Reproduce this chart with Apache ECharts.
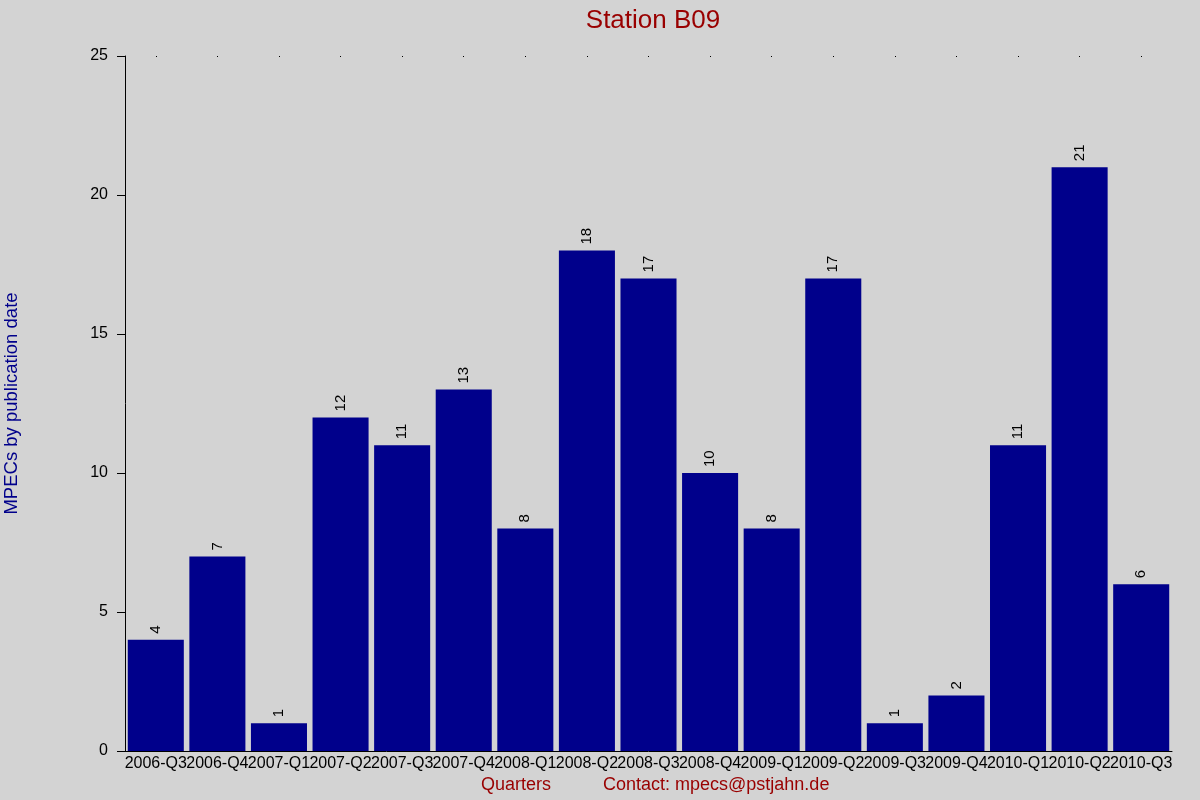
<!DOCTYPE html>
<html>
<head>
<meta charset="utf-8">
<script src="https://cdn.jsdelivr.net/npm/echarts@6/dist/echarts.min.js"></script>
<style>
  html, body { margin: 0; padding: 0; background: #d3d3d3; }
  #main { width: 1200px; height: 800px; }
</style>
</head>
<body>
<div id="main"></div>
<script>
// quarters and MPEC counts
var quarters = ['2006-Q3', '2006-Q4', '2007-Q1', '2007-Q2', '2007-Q3', '2007-Q4',
  '2008-Q1', '2008-Q2', '2008-Q3', '2008-Q4', '2009-Q1', '2009-Q2',
  '2009-Q3', '2009-Q4', '2010-Q1', '2010-Q2', '2010-Q3'];
var counts = [4, 7, 1, 12, 11, 13, 8, 18, 17, 10, 8, 17, 1, 2, 11, 21, 6];
var yTicks = [0, 5, 10, 15, 20, 25];

var chart = echarts.init(document.getElementById('main'));
var font = 'Liberation Sans, Arial, sans-serif';

chart.setOption({
  backgroundColor: '#d3d3d3',
  animation: false,
  title: {
    text: 'Station B09',
    left: 648,
    textAlign: 'center',
    top: 3,
    textStyle: { color: '#990000', fontSize: 26, fontWeight: 'normal', fontFamily: font }
  },
  grid: { left: 125, right: 28, top: 56, bottom: 49, outerBoundsMode: 'none', containLabel: false },
  xAxis: [
    {
      type: 'category',
      data: quarters,
      axisLine: { lineStyle: { color: '#000', width: 1 } },
      axisTick: { show: false },
      axisLabel: { interval: 0, color: '#000', fontSize: 16, fontFamily: font, margin: 5 }
    },
    {
      type: 'category',
      position: 'top',
      data: quarters,
      axisLine: { show: false },
      axisTick: { show: true, alignWithLabel: true, length: 1, inside: true, lineStyle: { color: '#000' } },
      axisLabel: { show: false }
    }
  ],
  yAxis: {
    type: 'value',
    min: yTicks[0],
    max: yTicks[yTicks.length - 1],
    interval: 5,
    name: 'MPECs by publication date',
    nameLocation: 'middle',
    nameGap: 104,
    nameTextStyle: { color: '#00008b', fontSize: 18.5, fontFamily: font },
    axisLine: { show: true, lineStyle: { color: '#000', width: 1 } },
    axisTick: { show: true, length: 8, lineStyle: { color: '#000' } },
    axisLabel: { color: '#000', fontSize: 16, fontFamily: font, margin: 17 },
    splitLine: { show: false }
  },
  series: [{
    type: 'bar',
    data: counts,
    barCategoryGap: '9%',
    itemStyle: { color: '#00008b' },
    label: {
      show: true,
      position: 'top',
      rotate: 90,
      align: 'left',
      verticalAlign: 'middle',
      distance: 6,
      color: '#000',
      fontSize: 15,
      fontFamily: font
    }
  }],
  graphic: [
    {
      type: 'text', left: 481, top: 776,
      style: { text: 'Quarters', fill: '#990000', fontSize: 18, fontFamily: font }
    },
    {
      type: 'text', left: 603, top: 776,
      style: { text: 'Contact: mpecs@pstjahn.de', fill: '#990000', fontSize: 18, fontFamily: font }
    }
  ]
});
</script>
</body>
</html>
